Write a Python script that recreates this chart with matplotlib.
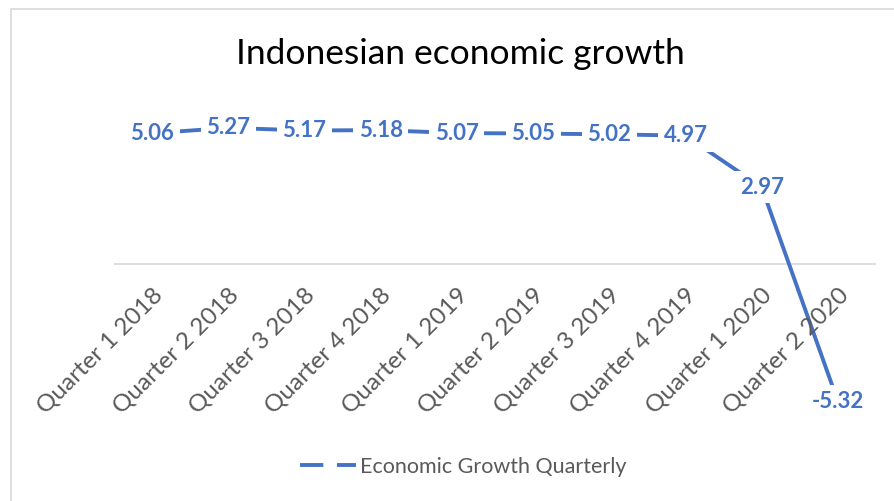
import matplotlib
matplotlib.use("Agg")
import matplotlib.pyplot as plt
from matplotlib.lines import Line2D
from matplotlib.patches import Rectangle

quarters = [
    "Quarter 1 2018", "Quarter 2 2018", "Quarter 3 2018", "Quarter 4 2018",
    "Quarter 1 2019", "Quarter 2 2019", "Quarter 3 2019", "Quarter 4 2019",
    "Quarter 1 2020", "Quarter 2 2020",
]
growth = [5.06, 5.27, 5.17, 5.18, 5.07, 5.05, 5.02, 4.97, 2.97, -5.32]

BLUE = "#4472C4"
GRAY = "#595959"

plt.rcParams["font.family"] = ["Lato", "DejaVu Sans"]

fig = plt.figure(figsize=(8.95, 5.01), dpi=100)
fig.patches.append(Rectangle((11 / 895, -0.1), 1.2, (1 - 8.5 / 501) + 0.1,
                             transform=fig.transFigure, fill=False,
                             edgecolor="#D9D9D9", linewidth=1.2))

ax = fig.add_axes([114 / 895, 1 - 419 / 501, 762 / 895, 310 / 501])
x = list(range(len(quarters)))
ax.plot(x, growth, color=BLUE, linewidth=2.8, solid_capstyle="butt", zorder=2)
ax.set_xlim(-0.5, len(quarters) - 0.5)
ax.set_ylim(-6, 6)
ax.axhline(0, color="#D9D9D9", linewidth=1.2, zorder=1)
ax.axis("off")

for xi, v in zip(x, growth):
    ax.text(xi, v, f"{v:.2f}", color=BLUE, fontsize=16, fontweight="bold",
            ha="center", va="center", zorder=3,
            bbox=dict(facecolor="white", edgecolor="none", pad=4))

for xi, lab in zip(x, quarters):
    ax.annotate(lab, xy=(xi, 0), xytext=(5, -20), textcoords="offset points",
                rotation=45, rotation_mode="anchor", ha="right", va="center",
                color=GRAY, fontsize=17.5)

fig.text(460 / 895, 1 - 54 / 501, "Indonesian economic growth", ha="center",
         va="center", fontsize=25.5, color="black")

handle = Line2D([], [], color=BLUE, linewidth=2.8, linestyle=(0, (6, 3.5)))
fig.legend([handle], ["Economic Growth Quarterly"], loc="center",
           bbox_to_anchor=(463 / 895, 1 - 467 / 501), frameon=False,
           fontsize=15.5, labelcolor=GRAY, handlelength=2.6, handletextpad=0.2)

fig.savefig("out.png", dpi=100)
